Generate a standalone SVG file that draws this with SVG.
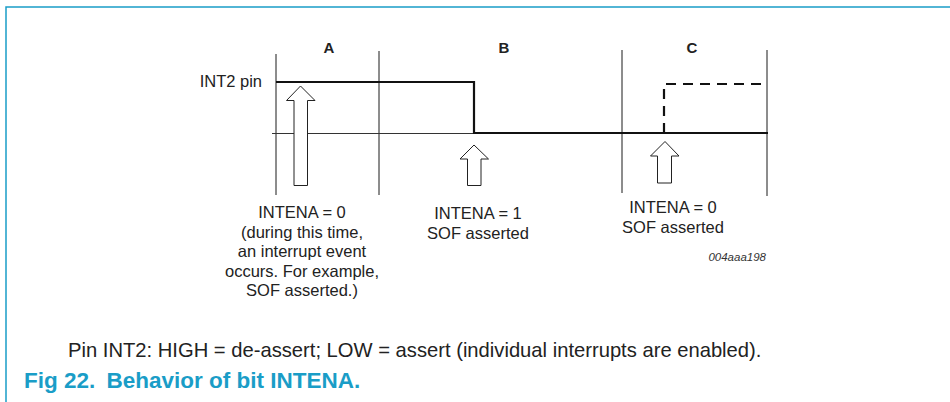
<svg xmlns="http://www.w3.org/2000/svg" width="950" height="402" viewBox="0 0 950 402">
<style>
.frame{stroke:#1a9dc7;stroke-width:1.5;fill:none}
.sep{stroke:#1a1a1a;stroke-width:1;fill:none}
.thin{stroke:#333;stroke-width:1;fill:none}
.sig{stroke:#111;stroke-width:2.2;fill:none}
.dash{stroke:#111;stroke-width:2.2;fill:none;stroke-dasharray:10 7}
.arrow{stroke:#222;stroke-width:1;fill:#fff}
.lbl{font-family:"Liberation Sans",Arial,sans-serif;font-size:16.5px;fill:#222}
.hdr{font-family:"Liberation Sans",Arial,sans-serif;font-size:15px;font-weight:bold;fill:#222;text-anchor:middle}
.note{font-family:"Liberation Sans",Arial,sans-serif;font-size:16.5px;fill:#222;text-anchor:middle}
.code{font-family:"Liberation Sans",Arial,sans-serif;font-size:11.5px;font-style:italic;fill:#333;text-anchor:end}
.cap{font-family:"Liberation Sans",Arial,sans-serif;font-size:22.5px;font-weight:bold;fill:#1a9dc7}
.foot{font-family:"Liberation Sans",Arial,sans-serif;font-size:20.2px;fill:#222}
</style>
<g id="frame">
<path class="frame" d="M6 402 V7 H950"/>
</g>
<g id="phases">
<line class="sep" x1="276" y1="54" x2="276" y2="195"/>
<line class="sep" x1="379" y1="51" x2="379" y2="195"/>
<line class="sep" x1="622" y1="50" x2="622" y2="193"/>
<line class="sep" x1="767" y1="50" x2="767" y2="196"/>
<text class="hdr" x="329" y="53">A</text>
<text class="hdr" x="504" y="53">B</text>
<text class="hdr" x="692" y="53">C</text>
</g>
<g id="connectors">
<line class="thin" x1="272" y1="133.5" x2="474" y2="133.5"/>
<path class="sig" d="M276 82 H474 V133 H768"/>
<path class="dash" d="M664 133 V84 H762"/>
</g>
<g id="int2-label">
<text class="lbl" x="262" y="87" text-anchor="end">INT2 pin</text>
</g>
<g id="arrow-a">
<path class="arrow" d="M294 185.5 V100.5 H286.5 L300.5 86 L315 100.5 H307.5 V185.5 Z"/>
</g>
<g id="arrow-b">
<path class="arrow" d="M467.5 185.5 V159 H460 L474 145 L488.5 159 H481 V185.5 Z"/>
</g>
<g id="arrow-c">
<path class="arrow" d="M657.5 183 V156 H650.5 L665 141.5 L679 156 H671.5 V183 Z"/>
</g>
<g id="note-a">
<text class="note"><tspan x="302" y="218">INTENA = 0</tspan><tspan x="302" y="237.5">(during this time,</tspan><tspan x="302" y="257">an interrupt event</tspan><tspan x="302" y="276.5">occurs. For example,</tspan><tspan x="302" y="296">SOF asserted.)</tspan></text>
</g>
<g id="note-b">
<text class="note"><tspan x="478" y="219">INTENA = 1</tspan><tspan x="478" y="239">SOF asserted</tspan></text>
</g>
<g id="note-c">
<text class="note"><tspan x="673" y="213">INTENA = 0</tspan><tspan x="673" y="233">SOF asserted</tspan></text>
</g>
<text class="code" x="766" y="261">004aaa198</text>
<text class="foot" x="68" y="357">Pin INT2: HIGH = de-assert; LOW = assert (individual interrupts are enabled).</text>
<text class="cap" x="24" y="388">Fig 22.<tspan dx="5"> Behavior of bit INTENA.</tspan></text>
</svg>
